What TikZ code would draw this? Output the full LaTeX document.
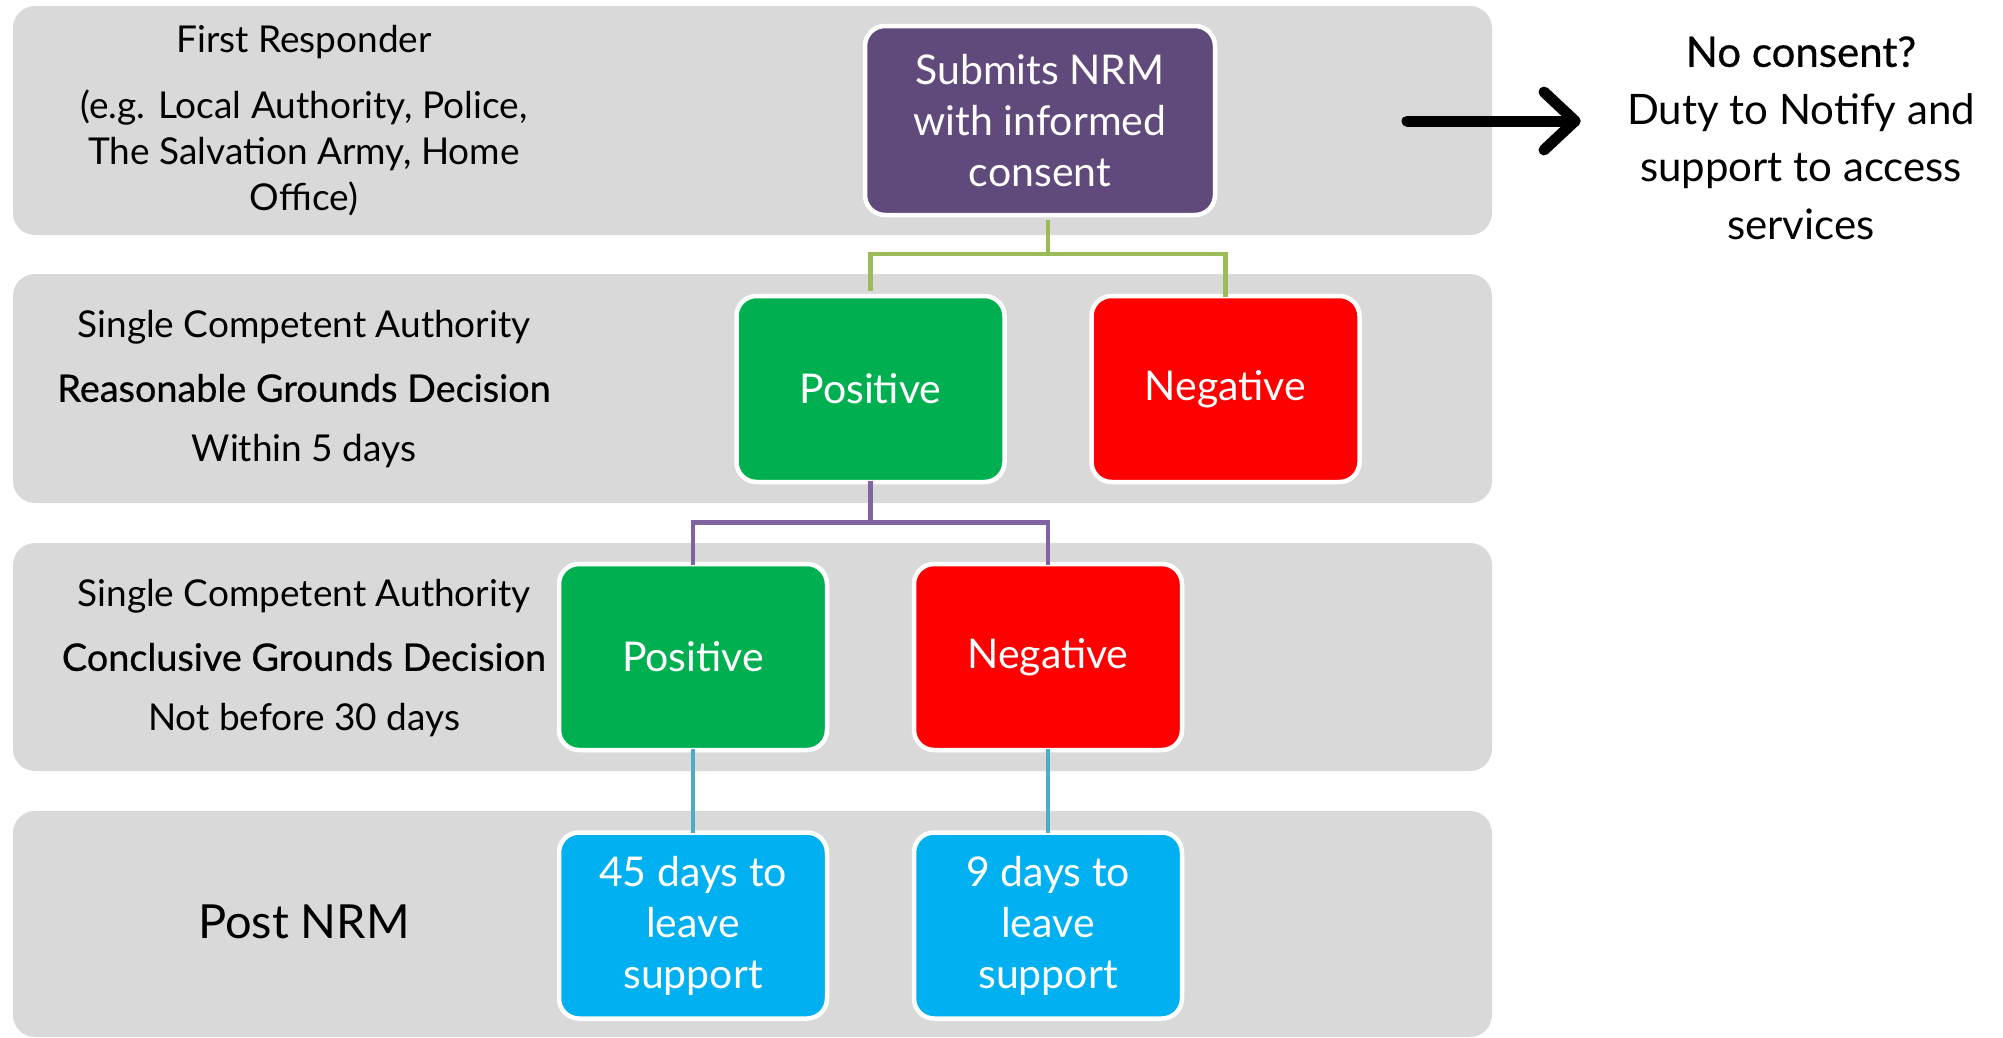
\documentclass[tikz,border=0pt]{standalone}
\usepackage{fontspec}
\setmainfont{Lato}
\newfontfamily\medfont{Lato}[FakeBold=0.6]
\definecolor{bandgray}{HTML}{D9D9D9}
\definecolor{boxpurple}{HTML}{604A7B}
\definecolor{boxgreen}{HTML}{00B050}
\definecolor{boxred}{HTML}{FF0000}
\definecolor{boxblue}{HTML}{00B0F0}
\definecolor{lngreen}{HTML}{9BBB59}
\definecolor{lnpurple}{HTML}{8064A2}
\definecolor{lnblue}{HTML}{4BACC6}
\begin{document}
\begin{tikzpicture}[x=1pt,y=-1pt,
  band/.style={fill=bandgray, rounded corners=22pt},
  flowbox/.style={draw=white, line width=4.5pt, rounded corners=20pt, text=white,
    minimum width=268pt, minimum height=186pt, align=center, inner sep=0pt,
    font=\fontsize{41}{51}\selectfont},
  lbl/.style={align=center, text=black, font=\fontsize{37}{46}\selectfont},
  conn/.style={line width=4.5pt}
]
\useasboundingbox (0,0) rectangle (2003,1037);
\clip (0,0) rectangle (2003,1037);
% bands
\fill[band] (13,6) rectangle (1492,235);
\fill[band] (13,274) rectangle (1492,503);
\fill[band] (13,543) rectangle (1492,771);
\fill[band] (13,811) rectangle (1492,1037);

% left labels
\node[lbl] (fr1) at (304,42) {First Responder};
\node[lbl] (fr2) at (304,153) {(e.g. Local Authority, Police,\\The Salvation Army, Home\\Office)};
\node[lbl] (sc1) at (304,327) {Single Competent Authority};
\node[lbl, font=\fontsize{37.8}{46}\selectfont] (sc2) at (304,388) {\medfont Reasonable Grounds Decision};
\node[lbl] (sc3) at (304,451) {Within 5 days};
\node[lbl] (cg1) at (304,596) {Single Competent Authority};
\node[lbl, font=\fontsize{37.8}{46}\selectfont] (cg2) at (304,657) {\medfont Conclusive Grounds Decision};
\node[lbl] (cg3) at (304,720) {Not before 30 days};
\node[lbl, font=\fontsize{47}{56}\selectfont] (post) at (304,922) {Post NRM};

% boxes
\node[flowbox, fill=boxpurple, minimum width=350pt, minimum height=189pt] (nrm) at (1040,120.5) {Submits NRM\\with informed\\consent};
\node[flowbox, fill=boxgreen] (pos1) at (870.5,389) {Positive};
\node[flowbox, fill=boxred] (neg1) at (1225.5,389) {Negative};
\node[flowbox, fill=boxgreen] (pos2) at (693,657) {Positive};
\node[flowbox, fill=boxred] (neg2) at (1048,657) {Negative};
\node[flowbox, fill=boxblue] (d45) at (693,925.5) {45 days to\\leave\\support};
\node[flowbox, fill=boxblue] (d9) at (1048,925.5) {9 days to\\leave\\support};

% connectors
\draw[conn, lngreen] (nrm.south -| 1048,0) ++(0,3) |- (1048,254) coordinate (gmid);
\draw[conn, lngreen] (pos1.north) ++(0,-3) |- (gmid) -| ([yshift=-3pt]neg1.north);
\draw[conn, lnpurple] ([yshift=3pt]pos1.south) |- (693,522.5) coordinate (pmid);
\draw[conn, lnpurple] ([yshift=-3pt]pos2.north) |- (pmid) -| ([yshift=-3pt]neg2.north);
\draw[conn, lnblue] ([yshift=3pt]pos2.south) -- ([yshift=-3pt]d45.north);
\draw[conn, lnblue] ([yshift=3pt]neg2.south) -- ([yshift=-3pt]d9.north);

% arrow
\coordinate (arS) at (1407,121);
\coordinate (arE) at (1575,121);
\coordinate (arU) at (1544,92);
\coordinate (arD) at (1544,150);
\draw[line width=11pt, line cap=round, line join=round] (arS) -- (arE);
\draw[line width=11pt, line cap=round, line join=round] (arU) -- (arE) -- (arD);

% right text
\node[align=center, font=\fontsize{42}{57.5}\selectfont] (nc) at (1801,138)
  {{\medfont No consent?}\\Duty to Notify and\\support to access\\services};
\end{tikzpicture}
\end{document}
